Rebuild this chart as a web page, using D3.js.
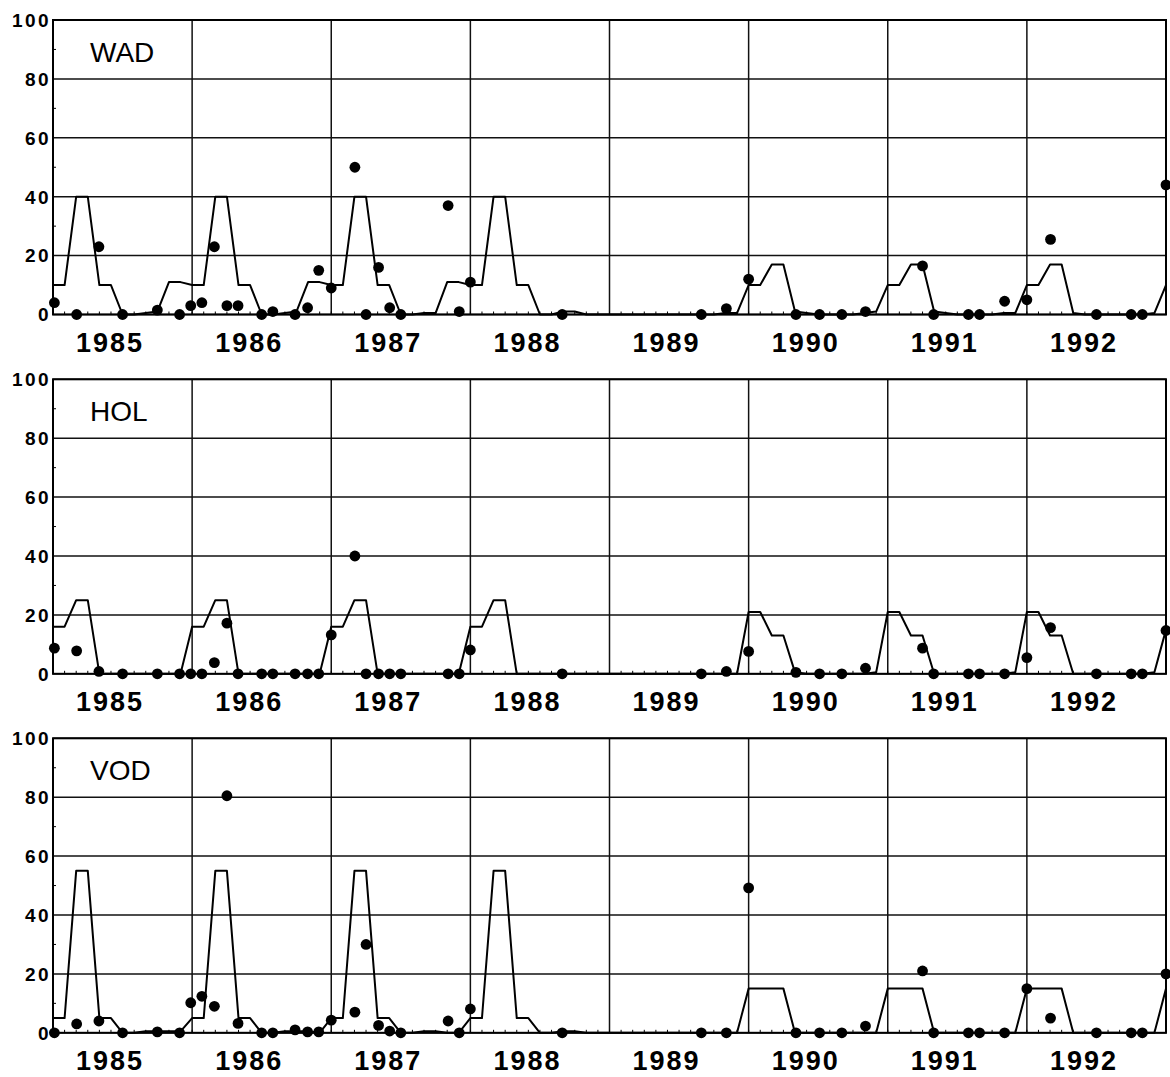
<!DOCTYPE html>
<html>
<head>
<meta charset="utf-8">
<script src="https://cdn.jsdelivr.net/npm/d3@7"></script>
<style>
    body { margin: 0; background: #fff; }
    text { font-family: "Liberation Sans", Arial, Helvetica, sans-serif; fill: #000; }
</style>
</head>
<body>
<svg id="chart"></svg>
<script>
// site names, one panel each
const sites = ["WAD", "HOL", "VOD"];
const years = [1985, 1986, 1987, 1988, 1989, 1990, 1991, 1992];
const yTicks = [0, 20, 40, 60, 80, 100];

// model curve, one value per month from Jan 1985 to Jan 1993
const modelStart = 1985;
const wadModel = [
    10, 10, 40, 40, 10, 10, 0, 0, 0.5, 1, 11, 11,
    10, 10, 40, 40, 10, 10, 0, 0, 0.5, 1, 11, 11,
    10, 10, 40, 40, 10, 10, 0, 0, 0.5, 0.5, 11, 11,
    10, 10, 40, 40, 10, 10, 0, 0, 1, 1, 0, 0,
    0, 0, 0, 0, 0, 0, 0, 0, 0, 0, 0.5, 0.5,
    10, 10, 17, 17, 1, 0.5, 0, 0, 0, 0, 0.5, 1,
    10, 10, 17, 17, 1, 0.5, 0, 0, 0, 0, 0.5, 0.5,
    10, 10, 17, 17, 0.5, 0, 0, 0, 0, 0, 0, 0.5,
    10
];
const holModel = [
    16, 16, 25, 25, 0, 0, 0, 0, 0, 0, 0, 0,
    16, 16, 25, 25, 0, 0, 0, 0, 0, 0, 0, 0,
    16, 16, 25, 25, 0, 0, 0, 0, 0, 0, 0, 0,
    16, 16, 25, 25, 0, 0, 0, 0, 0, 0, 0, 0,
    0, 0, 0, 0, 0, 0, 0, 0, 0, 0, 0, 0,
    21, 21, 13, 13, 0.5, 0, 0, 0, 0, 0, 0, 0.5,
    21, 21, 13, 13, 0, 0, 0, 0, 0, 0, 0, 0.5,
    21, 21, 13, 13, 0, 0, 0, 0, 0, 0, 0, 0.5,
    15
];
const vodModel = [
    5, 5, 55, 55, 5, 5, 0, 0, 0.5, 0.5, 0.5, 0.5,
    5, 5, 55, 55, 5, 5, 0, 0, 0.5, 0.5, 0.5, 0,
    5, 5, 55, 55, 5, 5, 0, 0, 0.5, 0.5, 0, 0,
    5, 5, 55, 55, 5, 5, 0, 0, 0.5, 0.5, 0, 0,
    0, 0, 0, 0, 0, 0, 0, 0, 0, 0, 0, 0,
    15, 15, 15, 15, 0, 0, 0, 0, 0, 0, 0, 0,
    15, 15, 15, 15, 0, 0, 0, 0, 0, 0, 0, 0,
    15, 15, 15, 15, 0, 0, 0, 0, 0, 0, 0, 0,
    15
];

// sampling dates (decimal years) and observed values
const sampleDates = [
    1985.01, 1985.17, 1985.33, 1985.50, 1985.75, 1985.91, 1985.99, 1986.07, 1986.16, 1986.25,
    1986.33, 1986.50, 1986.58, 1986.74, 1986.83, 1986.91, 1987.00, 1987.17, 1987.25, 1987.34,
    1987.42, 1987.50, 1987.84, 1987.92, 1988.00, 1988.66, 1989.66, 1989.84, 1990.00, 1990.34,
    1990.51, 1990.67, 1990.84, 1991.25, 1991.33, 1991.58, 1991.66, 1991.84, 1992.00, 1992.17,
    1992.50, 1992.75, 1992.83, 1993.00
];
const wadObserved = [
    4, 0, 23, 0, 1.5, 0, 3, 4, 23, 3,
    3, 0, 1, 0, 2.3, 15, 9, 50, 0, 16,
    2.3, 0, 37, 1, 11, 0, 0, 2, 12, 0,
    0, 0, 1, 16.5, 0, 0, 0, 4.5, 5, 25.5,
    0, 0, 0, 44
];
const holObserved = [
    8.7, 7.8, 0.8, 0, 0, 0, 0, 0, 3.8, 17.2,
    0, 0, 0, 0, 0, 0, 13.2, 40, 0, 0,
    0, 0, 0, 0, 8.1, 0, 0, 0.8, 7.6, 0.5,
    0, 0, 1.9, 8.7, 0, 0, 0, 0, 5.5, 15.7,
    0, 0, 0, 14.7
];
const vodObserved = [
    0, 3, 4, 0, 0.3, 0, 10.2, 12.4, 9, 80.5,
    3.2, 0, 0, 1, 0.3, 0.3, 4.3, 7, 30, 2.5,
    0.6, 0, 4, 0, 8.1, 0, 0, 0, 49.2, 0,
    0, 0, 2.3, 21, 0, 0, 0, 0, 15, 5,
    0, 0, 0, 20
];

const models = [wadModel, holModel, vodModel];
const observed = [wadObserved, holObserved, vodObserved];

class Panel {
    margin = { left: 53, right: 4 }

    constructor(svg, name, model, obs, top, height = 294.5) {
        this.svg = svg;
        this.name = name;
        this.model = model;
        this.obs = obs;
        this.top = top;
        this.height = height;
    }

    initialize(width) {
        this.width = width - this.margin.left - this.margin.right;
        this.container = this.svg.append("g")
            .attr("transform", `translate(${this.margin.left}, ${this.top})`);

        this.xScale = d3.scaleLinear().domain([1985, 1993]).range([0, this.width]);
        this.yScale = d3.scaleLinear().domain([0, 100]).range([this.height, 0]);
    }

    update() {
        const x = this.xScale, y = this.yScale, g = this.container;

        // horizontal grid
        g.append("g")
            .selectAll("line")
            .data(yTicks)
            .join("line")
            .attr("x1", 0).attr("x2", this.width)
            .attr("y1", d => y(d)).attr("y2", d => y(d))
            .attr("stroke", "#111").attr("stroke-width", 1.5);

        // vertical grid, one line per year
        g.append("g")
            .selectAll("line")
            .data(d3.range(1985, 1994))
            .join("line")
            .attr("x1", d => x(d)).attr("x2", d => x(d))
            .attr("y1", 0).attr("y2", this.height)
            .attr("stroke", "#111").attr("stroke-width", 1.5);

        // minor ticks: months on the base line, tens on the left axis
        const months = d3.range(0, 97).map(i => modelStart + i / 12);
        g.append("g")
            .selectAll("line")
            .data(months)
            .join("line")
            .attr("x1", d => x(d)).attr("x2", d => x(d))
            .attr("y1", this.height).attr("y2", this.height - 3)
            .attr("stroke", "#000").attr("stroke-width", 1);
        g.append("g")
            .selectAll("line")
            .data([10, 30, 50, 70, 90])
            .join("line")
            .attr("x1", 0).attr("x2", 3)
            .attr("y1", d => y(d)).attr("y2", d => y(d))
            .attr("stroke", "#000").attr("stroke-width", 1);

        // frame
        g.append("rect")
            .attr("width", this.width).attr("height", this.height)
            .attr("fill", "none").attr("stroke", "#000").attr("stroke-width", 2);

        // model line
        const line = d3.line()
            .x((d, i) => x(modelStart + i / 12))
            .y(d => y(d));
        g.append("path")
            .datum(this.model)
            .attr("d", line)
            .attr("fill", "none")
            .attr("stroke", "#000")
            .attr("stroke-width", 2)
            .attr("stroke-linejoin", "round");

        // observations
        g.append("g")
            .selectAll("circle")
            .data(this.obs)
            .join("circle")
            .attr("cx", (d, i) => x(sampleDates[i]))
            .attr("cy", d => y(d))
            .attr("r", 5.4)
            .attr("fill", "#000");

        // y tick labels
        g.append("g")
            .selectAll("text")
            .data(yTicks)
            .join("text")
            .attr("x", -2)
            .attr("y", d => y(d))
            .attr("dy", "0.36em")
            .attr("text-anchor", "end")
            .style("font-size", "19px")
            .style("font-weight", "bold")
            .style("letter-spacing", "2.4px")
            .text(d => d);

        // year labels
        g.append("g")
            .selectAll("text")
            .data(years)
            .join("text")
            .attr("x", d => x(d + 0.41))
            .attr("y", this.height + 37.5)
            .attr("text-anchor", "middle")
            .style("font-size", "27px")
            .style("font-weight", "bold")
            .style("letter-spacing", "2px")
            .text(d => d);

        // site name
        g.append("text")
            .attr("x", 37)
            .attr("y", 42)
            .style("font-size", "28px")
            .text(this.name);
    }
}

const width = 1170, height = 1077;
const svg = d3.select("#chart").attr("width", width).attr("height", height);
const tops = [20, 379.3, 738.3];

sites.forEach((name, i) => {
    const panel = new Panel(svg, name, models[i], observed[i], tops[i]);
    panel.initialize(width);
    panel.update();
});
</script>
</body>
</html>
